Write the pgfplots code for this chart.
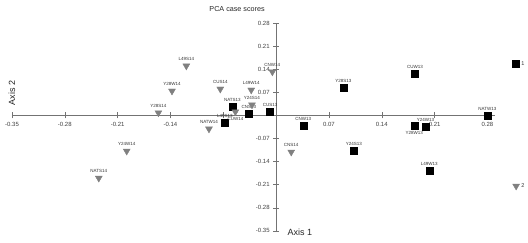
\documentclass[border=0pt]{standalone}
\usepackage{fontspec}
\setmainfont{Liberation Sans}
\usepackage{pgfplots}
\pgfplotsset{compat=1.18}
\usepackage{pgfplotstable}

% 2013 samples (squares), label above
\pgfplotstableread{
x y label
-0.058 0.026 NATS13
-0.036 0.005 CNS13
-0.008 0.011 CUS13
-0.068 -0.023 L49S13
0.036 -0.032 CNW13
0.089 0.083 Y28S13
0.184 0.126 CUW13
0.280 0.000 NATW13
0.198 -0.035 Y24W13
0.103 -0.108 Y24S13
0.203 -0.168 L49W13
}\sqdata
% 2013 samples (squares), label below
\pgfplotstableread{
x y label
0.183 -0.032 Y28W13
}\sqdatab

% 2014 samples (triangles), label above
\pgfplotstableread{
x y label
-0.119 0.150 L49S14
-0.138 0.074 Y28W14
-0.074 0.080 CUS14
-0.033 0.077 L49W14
-0.032 0.032 Y24S14
-0.156 0.008 Y28S14
-0.005 0.132 CNW14
-0.089 -0.041 NATW14
-0.198 -0.108 Y24W14
-0.235 -0.190 NATS14
0.020 -0.111 CNS14
}\tridata
% 2014 samples (triangles), label below
\pgfplotstableread{
x y label
-0.054 0.011 CUW14
}\tridatab

\pgfplotsset{
  sqmark/.style={only marks, mark=square*, mark size=3.5pt, black},
  trimark/.style={only marks, mark=triangle*, mark size=4pt, mark options={rotate=180, fill=black!50, draw=black!50}, color=black!50},
  lababove/.style={nodes near coords, nodes near coords align={anchor=south},
    every node near coord/.append style={font=\fontsize{4.5}{5}\selectfont, text=black!80, inner sep=0.5pt, yshift=4.5pt}},
  labbelow/.style={nodes near coords, nodes near coords align={anchor=north},
    every node near coord/.append style={font=\fontsize{4.5}{5}\selectfont, text=black!80, inner sep=0.5pt, yshift=-4.5pt}},
  labright/.style={nodes near coords, nodes near coords align={anchor=west},
    every node near coord/.append style={font=\fontsize{5.5}{6}\selectfont, text=black!80, inner sep=0pt, xshift=5pt}},
}

\begin{document}
\begin{tikzpicture}
\begin{axis}[
  name=ax,
  scale only axis, width=483pt, height=207.9pt,
  xmin=-0.35, xmax=0.29, ymin=-0.35, ymax=0.28,
  axis lines=middle,
  axis line style={-, draw=black!55, line width=0.6pt},
  xtick={-0.35,-0.28,-0.21,-0.14,-0.07,0.07,0.14,0.21,0.28},
  xticklabels={-0.35,-0.28,-0.21,-0.14,,0.07,0.14,0.21,0.28},
  ytick={-0.35,-0.28,-0.21,-0.14,-0.07,0.07,0.14,0.21,0.28},
  yticklabels={-0.35,-0.28,-0.21,-0.14,-0.07,0.07,0.14,0.21,0.28},
  tick align=center, major tick length=6pt,
  tick style={draw=black!55, line width=0.5pt},
  ticklabel style={font=\fontsize{6}{7}\selectfont, text=black!75},
  /pgf/number format/assume math mode=true,
  clip=false,
  title={PCA case scores},
  every axis title shift=0pt,
  title style={at={(axis description cs:0.466,1)}, anchor=south, inner sep=0pt, yshift=11pt, font=\fontsize{7.2}{8}\selectfont, text=black!85},
  xlabel={Axis 1},
  xlabel style={at={(axis description cs:0.596,-0.005)}, anchor=center, font=\fontsize{9}{10}\selectfont, text=black!85},
  ylabel={Axis 2},
  ylabel style={at={(axis description cs:0,0.664)}, anchor=center, rotate=90, font=\fontsize{9}{10}\selectfont, text=black!85},
  point meta=explicit symbolic,
]
\addplot[sqmark, lababove] table[x=x, y=y, meta=label] {\sqdata};
\addplot[sqmark, labbelow] table[x=x, y=y, meta=label] {\sqdatab};
\addplot[trimark, lababove] table[x=x, y=y, meta=label] {\tridata};
\addplot[trimark, labbelow] table[x=x, y=y, meta=label] {\tridatab};
% legend-like markers at the right
\addplot[sqmark, labright] coordinates {(0.318,0.156) [1]};
\addplot[trimark, labright] coordinates {(0.318,-0.214) [2]};
\end{axis}
\pgfresetboundingbox
\path[use as bounding box] ([xshift=-12pt,yshift=-12pt]ax.south west) rectangle ([xshift=33pt,yshift=23pt]ax.north east);
\end{tikzpicture}
\end{document}
